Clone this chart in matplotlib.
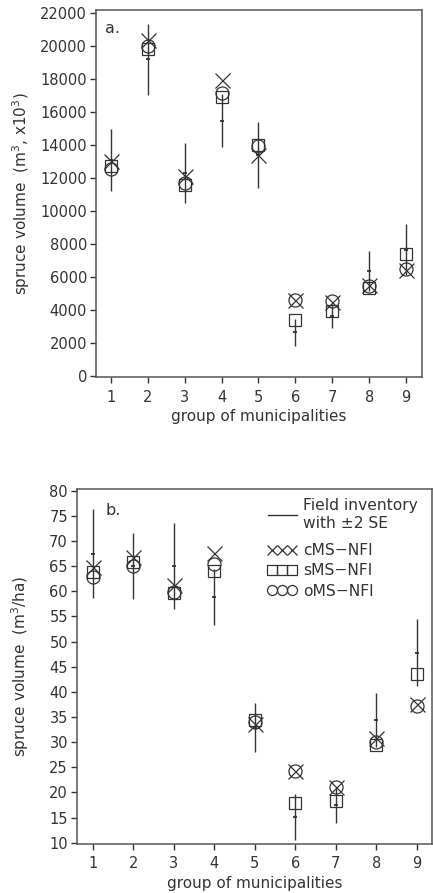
import matplotlib
matplotlib.use("Agg")
import matplotlib.pyplot as plt
from matplotlib.lines import Line2D

# ---- data -------------------------------------------------------------
groups = [1, 2, 3, 4, 5, 6, 7, 8, 9]

# (a) total spruce volume, m3 x 1000
field_a_mean = [13100, 19200, 12300, 15480, 13380, 2630, 3620, 6380, 7650]
field_a_2se = [1900, 2150, 1800, 1620, 2000, 810, 740, 1210, 1550]
cms_a = [13050, 20350, 12150, 17950, 13400, 4600, 4450, 5500, 6400]
sms_a = [12750, 19850, 11550, 16900, 14000, 3400, 3900, 5300, 7400]
oms_a = [12550, 20000, 11700, 17150, 13950, 4600, 4550, 5450, 6500]

# (b) mean spruce volume, m3/ha
field_b_mean = [67.5, 65.0, 65.0, 58.9, 32.9, 15.05, 17.5, 34.4, 47.8]
field_b_2se = [8.8, 6.6, 8.6, 5.6, 4.8, 4.55, 3.6, 5.4, 6.7]
cms_b = [64.8, 66.8, 61.2, 67.7, 33.6, 24.3, 21.1, 30.8, 37.5]
sms_b = [63.8, 65.9, 59.7, 64.1, 34.5, 17.9, 18.3, 29.5, 43.6]
oms_b = [62.8, 65.0, 59.9, 65.4, 34.0, 24.2, 21.0, 30.1, 37.2]

yticks_a = list(range(0, 22001, 2000))
yticks_b = list(range(10, 81, 5))

# ---- style ------------------------------------------------------------
INK = "#333333"
plt.rcParams["font.family"] = ["DejaVu Sans"]
plt.rcParams["font.size"] = 10.5
plt.rcParams["text.color"] = INK
plt.rcParams["axes.labelcolor"] = INK
plt.rcParams["xtick.color"] = INK
plt.rcParams["ytick.color"] = INK

fig = plt.figure(figsize=(4.33, 8.93), dpi=100)
W, H = 433, 893


def axes_px(left, top, right, bottom):
    return fig.add_axes([left / W, 1 - bottom / H, (right - left) / W, (bottom - top) / H])


ax_a = axes_px(96, 10, 422, 377)
ax_b = axes_px(77, 489, 432, 844)

MS_X, MS_S, MS_O = 10.8, 8.9, 9.4
MEW = 0.9
TICK_FS = 10.5
LABEL_FS = 11
LEGEND_FS = 11.2


def draw_panel(ax, mean, two_se, cms, sms, oms):
    lo = [m - s for m, s in zip(mean, two_se)]
    hi = [m + s for m, s in zip(mean, two_se)]
    ax.vlines(groups, lo, hi, colors=INK, lw=1.0, zorder=2)
    ax.plot(groups, mean, ls="none", marker="_", ms=3.5, mew=1.3, color=INK, zorder=2)
    ax.plot(groups, sms, ls="none", marker="s", ms=MS_S, mfc="none", mec=INK, mew=MEW, zorder=3)
    ax.plot(groups, oms, ls="none", marker="o", ms=MS_O, mfc="none", mec=INK, mew=MEW, zorder=3)
    ax.plot(groups, cms, ls="none", marker="x", ms=MS_X, mec=INK, mew=MEW, zorder=4)

    ax.set_xticks(groups)
    ax.set_xticklabels([str(g) for g in groups])
    ax.tick_params(axis="both", direction="out", length=4, width=1.0, labelsize=TICK_FS)
    ax.tick_params(axis="y", pad=2.5)
    ax.tick_params(axis="x", pad=5.0)
    for sp in ax.spines.values():
        sp.set_color("#555555")
        sp.set_linewidth(1.1)
    ax.set_xlabel("group of municipalities", fontsize=LABEL_FS, labelpad=3.5)


draw_panel(ax_a, field_a_mean, field_a_2se, cms_a, sms_a, oms_a)
ax_a.set_xlim(0.6, 9.43)
ax_a.set_ylim(-80, 22200)
ax_a.set_yticks(yticks_a)
ax_a.set_yticklabels([str(v) for v in yticks_a])
ax_a.set_ylabel(r"spruce volume  (m$^3$, x10$^3$)", fontsize=LABEL_FS)
ax_a.yaxis.set_label_coords(-0.196, 0.5)
ax_a.text(0.028, 0.95, "a.", transform=ax_a.transAxes, fontsize=11.5, va="center", ha="left")

draw_panel(ax_b, field_b_mean, field_b_2se, cms_b, sms_b, oms_b)
ax_b.set_xlim(0.61, 9.38)
ax_b.set_ylim(9.75, 80.35)
ax_b.set_yticks(yticks_b)
ax_b.set_yticklabels([str(v) for v in yticks_b])
ax_b.set_ylabel(r"spruce volume  (m$^3$/ha)", fontsize=LABEL_FS)
ax_b.yaxis.set_label_coords(-0.13, 0.5)
ax_b.text(0.079, 0.94, "b.", transform=ax_b.transAxes, fontsize=11.5, va="center", ha="left")

# legend: field inventory line, then the three estimators
leg1 = ax_b.legend(
    handles=[Line2D([], [], color=INK, lw=1.0)],
    labels=["Field inventory\nwith ±2 SE"],
    loc="upper left", bbox_to_anchor=(0.538, 0.974), frameon=False,
    borderpad=0, borderaxespad=0, handlelength=1.85, handletextpad=0.4, fontsize=LEGEND_FS,
)
ax_b.add_artist(leg1)
LMS = 7.2
est_handles = [
    Line2D([], [], ls="none", marker="x", ms=LMS, mec=INK, mew=MEW),
    Line2D([], [], ls="none", marker="s", ms=LMS, mfc="none", mec=INK, mew=MEW),
    Line2D([], [], ls="none", marker="o", ms=LMS, mfc="none", mec=INK, mew=MEW),
]
ax_b.legend(
    handles=est_handles, labels=["cMS−NFI", "sMS−NFI", "oMS−NFI"],
    numpoints=3, loc="upper left", bbox_to_anchor=(0.535, 0.847), frameon=False,
    borderpad=0, borderaxespad=0, handlelength=1.9, handletextpad=0.4,
    labelspacing=0.33, fontsize=LEGEND_FS,
)

fig.savefig("out.png", dpi=100)
